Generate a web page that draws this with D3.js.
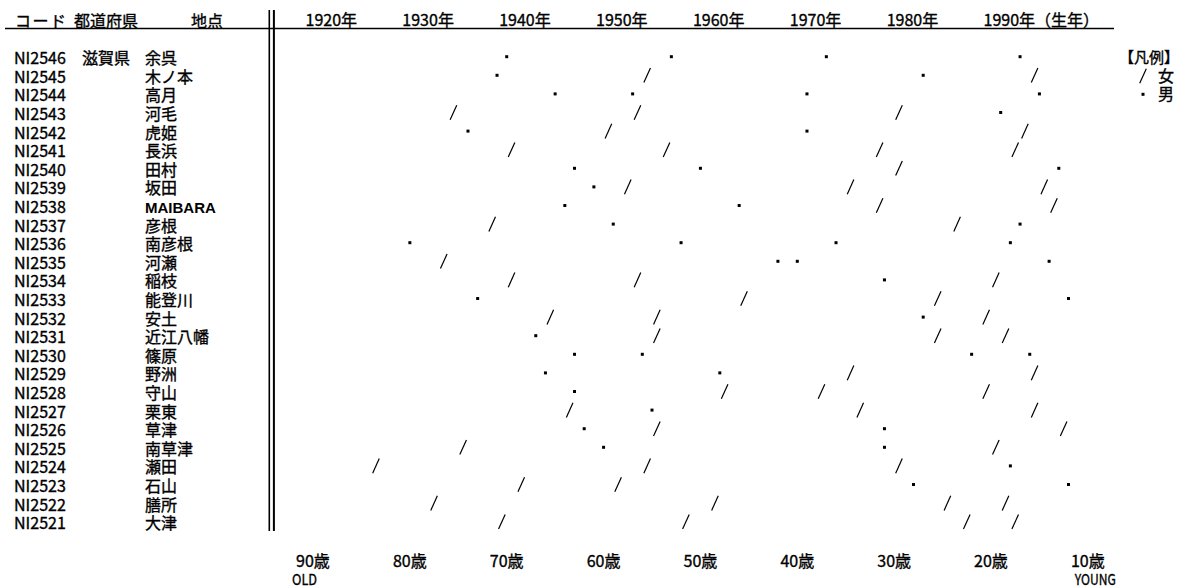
<!DOCTYPE html>
<html>
<head>
<meta charset="utf-8">
<script src="https://cdn.jsdelivr.net/npm/d3@7"></script>
<style>
  html, body { margin: 0; padding: 0; background: #fff; }
  svg text { font-family: "Noto Sans CJK JP", "Noto Sans", sans-serif; fill: #000; stroke: #000; stroke-width: 0.35px; }
</style>
</head>
<body>
<svg id="chart" width="1180" height="588"></svg>
<script>
// ---------------- data ----------------
const codes = ["NI2546","NI2545","NI2544","NI2543","NI2542","NI2541","NI2540","NI2539","NI2538",
  "NI2537","NI2536","NI2535","NI2534","NI2533","NI2532","NI2531","NI2530","NI2529","NI2528",
  "NI2527","NI2526","NI2525","NI2524","NI2523","NI2522","NI2521"];
const prefectures = ["滋賀県","","","","","","","","","","","","","","","","","","","","","","","","",""];
const places = ["余呉","木ノ本","高月","河毛","虎姫","長浜","田村","坂田","MAIBARA","彦根","南彦根",
  "河瀬","稲枝","能登川","安土","近江八幡","篠原","野洲","守山","栗東","草津","南草津","瀬田",
  "石山","膳所","大津"];
// birth years of the four informants at each location
const birthYears = [
  [1940,1957,1973,1993],
  [1939,1954,1983,1994],
  [1945,1953,1971,1995],
  [1934,1953,1980,1991],
  [1936,1950,1971,1993],
  [1940,1956,1978,1992],
  [1947,1960,1980,1997],
  [1949,1952,1975,1995],
  [1946,1964,1978,1996],
  [1938,1951,1986,1993],
  [1930,1958,1974,1992],
  [1933,1968,1970,1996],
  [1940,1953,1979,1990],
  [1937,1964,1984,1998],
  [1944,1955,1983,1989],
  [1943,1955,1984,1991],
  [1947,1954,1988,1994],
  [1944,1962,1975,1994],
  [1947,1962,1972,1989],
  [1946,1955,1976,1994],
  [1948,1955,1979,1997],
  [1935,1950,1979,1990],
  [1926,1954,1980,1992],
  [1941,1951,1982,1998],
  [1932,1961,1985,1991],
  [1939,1958,1987,1992]
];
// sex of each informant: F = 女 (/), M = 男 (・)
const sexes = [
  ["M","M","M","M"],
  ["M","F","M","F"],
  ["M","M","M","M"],
  ["F","F","F","M"],
  ["M","F","M","F"],
  ["F","F","F","F"],
  ["M","M","F","M"],
  ["M","F","F","F"],
  ["M","M","F","F"],
  ["F","M","F","M"],
  ["M","M","M","M"],
  ["F","M","M","M"],
  ["F","F","M","F"],
  ["M","F","F","M"],
  ["F","F","M","F"],
  ["M","F","F","F"],
  ["M","M","M","M"],
  ["M","M","F","F"],
  ["M","F","F","F"],
  ["F","M","F","F"],
  ["M","F","M","F"],
  ["F","M","M","F"],
  ["F","F","F","M"],
  ["F","F","M","M"],
  ["F","F","F","F"],
  ["F","F","F","F"]
];
const yearTicks = [1920,1930,1940,1950,1960,1970,1980,1990];
const yearTickLabels = ["1920年","1930年","1940年","1950年","1960年","1970年","1980年","1990年（生年）"];
const ageTicks = [90,80,70,60,50,40,30,20,10];
const ageTickLabels = ["90歳","80歳","70歳","60歳","50歳","40歳","30歳","20歳","10歳"];
const surveyYear = 2010;
const headerLabels = ["コード","都道府県","地点"];
const legendTitle = "【凡例】";
const legendItems = [{sex:"F", label:"女"}, {sex:"M", label:"男"}];

// ---------------- layout ----------------
const svg = d3.select("#chart");
const FS = 16;
const x = d3.scaleLinear().domain([1920, 1990]).range([313, 991]);
const y = d3.scalePoint().domain(codes).range([56.7, 521.7]);

// header
const headerX = [15, 74, 191];
svg.selectAll("text.hdr").data(headerLabels).join("text")
  .attr("class","hdr")
  .attr("x",(d,i)=>headerX[i]).attr("y",26.5)
  .attr("font-size",FS)
  .attr("letter-spacing",(d,i)=> i===0 ? 1.5 : 0)
  .text(d=>d);

// top axis (birth year)
const topAxis = d3.axisTop(x).tickValues(yearTicks).tickSize(0)
  .tickFormat((d,i)=>yearTickLabels[i]);
const gTop = svg.append("g").attr("transform","translate(0,26)").call(topAxis);
gTop.select(".domain").remove();
gTop.selectAll("text")
  .attr("font-family",'"Noto Sans CJK JP", sans-serif')
  .attr("font-size",FS).attr("fill","#000")
  .attr("text-anchor","start").attr("dx",-8).attr("dy",0).attr("y",0);

// header rule
svg.append("line").attr("x1",5).attr("x2",1114).attr("y1",28.5).attr("y2",28.5)
  .attr("stroke","#000").attr("stroke-width",1.3);

// double vertical rule
svg.append("line").attr("x1",269.3).attr("x2",269.3).attr("y1",10).attr("y2",531)
  .attr("stroke","#000").attr("stroke-width",1.6);
svg.append("line").attr("x1",273.9).attr("x2",273.9).attr("y1",10).attr("y2",531)
  .attr("stroke","#000").attr("stroke-width",2);

// row labels
const isLatin = s => /^[A-Z]+$/.test(s);
const rows = svg.append("g").selectAll("g.row").data(codes).join("g").attr("class","row");
rows.append("text").attr("x",14).attr("y",d=>y(d)+7.5).attr("font-size",FS).text(d=>d);
rows.append("text").attr("x",82).attr("y",d=>y(d)+7.5).attr("font-size",FS)
  .text((d,i)=>prefectures[i]);
rows.append("text").attr("x",145).attr("y",d=>y(d)+7.5)
  .attr("font-size",(d,i)=> isLatin(places[i]) ? 15 : FS)
  .attr("font-weight",(d,i)=> isLatin(places[i]) ? "bold" : null)
  .style("font-family",(d,i)=> isLatin(places[i]) ? '"Liberation Sans", Arial, sans-serif' : null)
  .style("stroke-width",(d,i)=> isLatin(places[i]) ? "0px" : null)
  .text((d,i)=>places[i]);

// marks
const marks = [];
codes.forEach((c,i)=>{
  birthYears[i].forEach((yr,j)=>marks.push({code:c, year:yr, sex:sexes[i][j]}));
});
const gMarks = svg.append("g");
function drawMark(g, cx, cy, sex){
  if (sex === "F") {
    g.append("line")
      .attr("x1",cx-3.3).attr("y1",cy+7.3).attr("x2",cx+3.3).attr("y2",cy-7.3)
      .attr("stroke","#000").attr("stroke-width",1.2);
  } else {
    g.append("rect").attr("x",cx-1.5).attr("y",cy-1.5).attr("width",3).attr("height",3)
      .attr("fill","#000");
  }
}
marks.forEach(m=>{
  const cx = m.sex === "F" ? x(m.year + 0.5) : x(m.year);
  drawMark(gMarks, cx, y(m.code), m.sex);
});

// bottom axis (age)
const gBot = svg.append("g");
gBot.selectAll("text.age").data(ageTicks).join("text").attr("class","age")
  .attr("x",d=>x(surveyYear - d)).attr("y",566.5)
  .attr("text-anchor","middle").attr("font-size",FS)
  .text((d,i)=>ageTickLabels[i]);
gBot.append("text").attr("x",x(surveyYear-90)-21).attr("y",584.5).attr("font-size",15)
  .attr("textLength",25).attr("lengthAdjust","spacingAndGlyphs").text("OLD");
gBot.append("text").attr("x",x(surveyYear-10)-13).attr("y",584.5).attr("font-size",15)
  .attr("textLength",41).attr("lengthAdjust","spacingAndGlyphs").text("YOUNG");

// legend
const gLeg = svg.append("g");
gLeg.append("text").attr("x",1119).attr("y",63).attr("font-size",15).text(legendTitle);
legendItems.forEach((it,k)=>{
  const cy = 76 + k*18.3;
  drawMark(gLeg, 1143, cy, it.sex);
  gLeg.append("text").attr("x",1158).attr("y",cy+6).attr("font-size",FS).text(it.label);
});
</script>
</body>
</html>
